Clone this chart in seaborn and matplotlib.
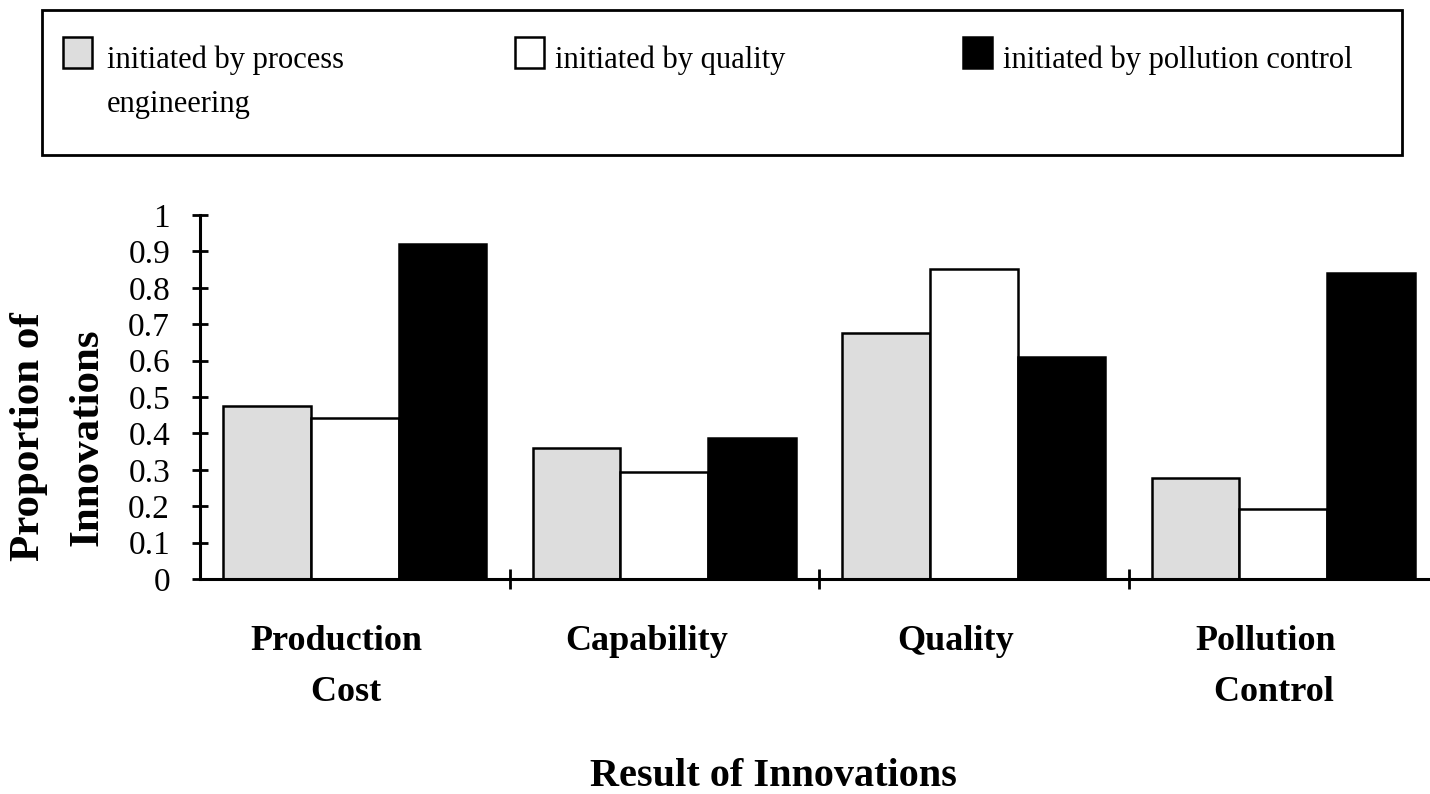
import numpy as np
import pandas as pd
import matplotlib
matplotlib.use("Agg")
import matplotlib.pyplot as plt
from matplotlib.patches import Rectangle
from matplotlib.transforms import ScaledTranslation
import seaborn as sns

# ---------------- data ----------------
categories = ["Production\n  Cost", "Capability", "Quality", "Pollution\n  Control"]
series_names = ["initiated by process engineering", "initiated by quality",
                "initiated by pollution control"]
process_engineering = [0.476, 0.361, 0.675, 0.278]
quality = [0.441, 0.295, 0.851, 0.193]
pollution_control = [0.919, 0.388, 0.609, 0.841]
legend_lines = [["initiated by process", "engineering"],
                ["initiated by quality"],
                ["initiated by pollution control"]]
ytick_values = [0, 0.1, 0.2, 0.3, 0.4, 0.5, 0.6, 0.7, 0.8, 0.9, 1.0]
ytick_labels = ["0", "0.1", "0.2", "0.3", "0.4", "0.5", "0.6", "0.7", "0.8", "0.9", "1"]
x_title = "Result of Innovations"
y_title = "Proportion of\nInnovations"
colors = ["#DDDDDD", "#FFFFFF", "#000000"]

# ---------------- style ----------------
W, H = 1430, 794
sns.set_style("white")
plt.rcParams["font.family"] = ["Liberation Serif", "DejaVu Serif"]
plt.rcParams["text.color"] = "black"
plt.rcParams["axes.labelcolor"] = "black"
plt.rcParams["xtick.color"] = "black"
plt.rcParams["ytick.color"] = "black"

df = pd.DataFrame({
    "category": categories * 3,
    "series": np.repeat(series_names, len(categories)),
    "value": process_engineering + quality + pollution_control,
})

fig = plt.figure(figsize=(W / 100, H / 100), dpi=100)
fig.patch.set_facecolor("white")


def fx(px):
    return px / W


def fy(py):
    return 1 - py / H


ax = fig.add_axes([fx(200), fy(579), 1238 / W, 364 / H])
ax.set_facecolor("white")

sns.barplot(data=df, x="category", y="value", hue="series",
            order=categories, hue_order=series_names, palette=colors,
            saturation=1, width=0.85, gap=0, edgecolor="black",
            linewidth=1.8, legend=False, ax=ax)

ax.set_xlim(-0.5, 3.5)
ax.set_ylim(0, 1)
for s in ["top", "right"]:
    ax.spines[s].set_visible(False)
for s in ["left", "bottom"]:
    ax.spines[s].set_color("black")
    ax.spines[s].set_linewidth(2.2)
    ax.spines[s].set_zorder(5)

ax.set_yticks(ytick_values, ytick_labels)
ax.tick_params(axis="y", direction="inout", length=11.5, width=2, pad=15.8,
               labelsize=24, color="black", labelcolor="black", left=True)

ax.set_xticks([0.5, 1.5, 2.5])
ax.set_xticks(range(len(categories)), categories, minor=True)
ax.tick_params(axis="x", which="major", direction="inout", length=14, width=2,
               color="black", labelbottom=False, bottom=True)
ax.tick_params(axis="x", which="minor", length=0, pad=33, labelsize=26,
               labelcolor="black")
shift = ScaledTranslation(-18 / 100, 0, fig.dpi_scale_trans)
for lbl in ax.get_xticklabels(minor=True):
    lbl.set_fontweight("bold")
    lbl.set_linespacing(1.72)
    lbl.set_multialignment("center")
    lbl.set_transform(lbl.get_transform() + shift)

ax.set_xlabel(x_title, fontsize=29, fontweight="bold", va="baseline", ha="center",
              color="black")
ax.xaxis.set_label_coords(fx(773), fy(786), transform=fig.transFigure)
ax.set_ylabel(y_title, fontsize=31, fontweight="bold", va="center", ha="center",
              linespacing=1.7, multialignment="center", color="black")
ax.yaxis.set_label_coords(fx(58), fy(437), transform=fig.transFigure)

# ---------------- legend box ----------------
fig.add_artist(Rectangle((fx(42), fy(155)), 1360 / W, 145 / H, fill=False,
                         edgecolor="black", linewidth=2, transform=fig.transFigure))
handle_x = [63, 515, 963]
text_x = [107, 555, 1003]
for hx, tx, col, lines in zip(handle_x, text_x, colors, legend_lines):
    fig.add_artist(Rectangle((fx(hx), fy(68)), 28.5 / W, 30.5 / H, facecolor=col,
                             edgecolor="black", linewidth=1.8,
                             transform=fig.transFigure))
    for i, line in enumerate(lines):
        fig.text(fx(tx), fy(68 + 44 * i), line, fontsize=22, ha="left",
                 va="baseline", color="black")

fig.savefig("out.png", dpi=100, facecolor="white")
